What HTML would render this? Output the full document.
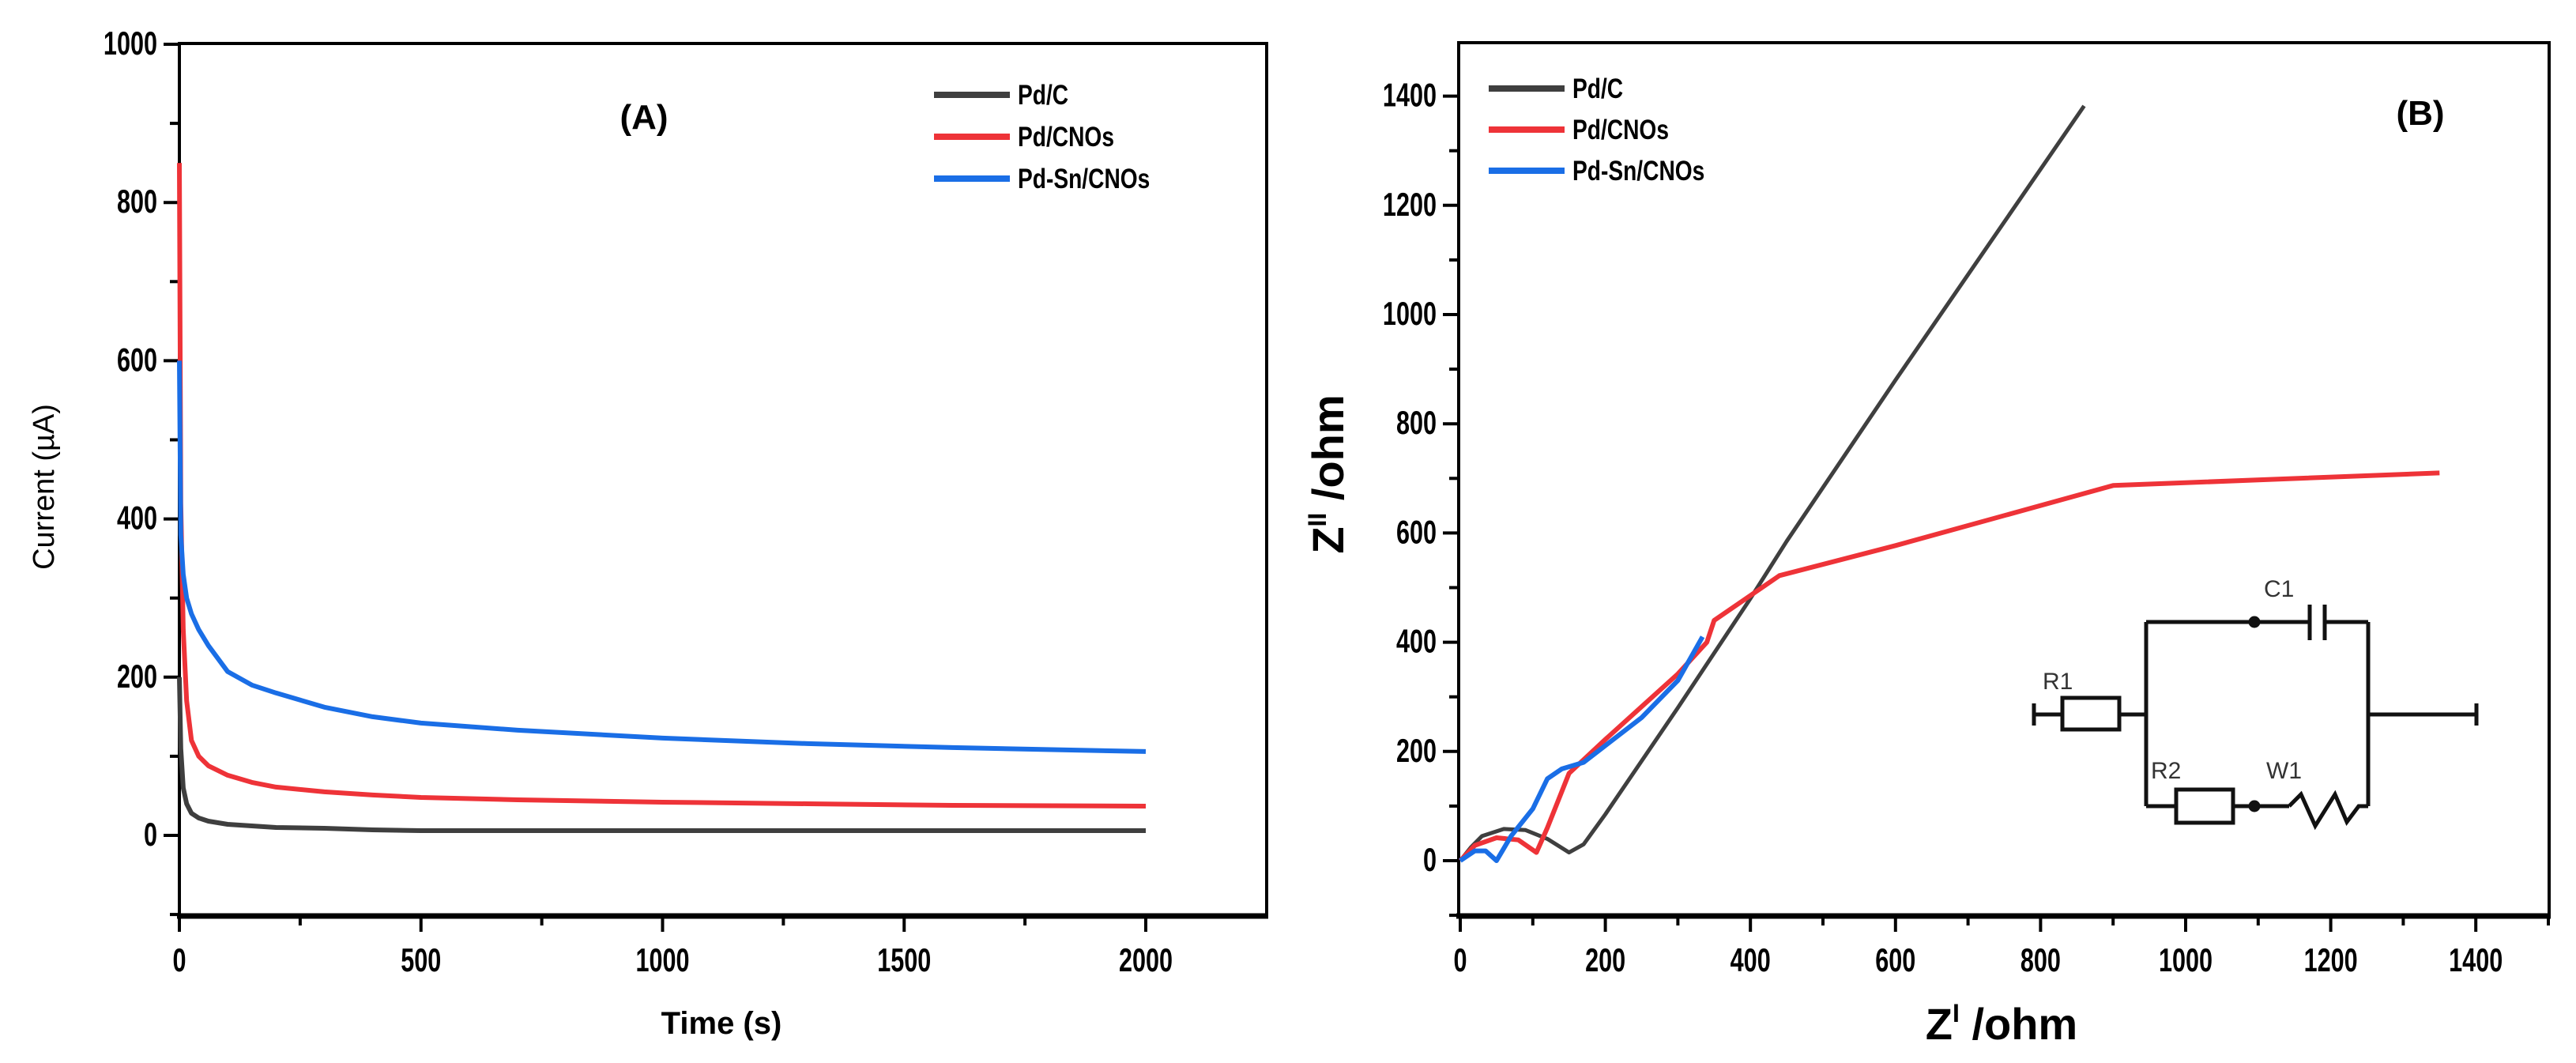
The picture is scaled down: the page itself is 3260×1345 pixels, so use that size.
<!DOCTYPE html>
<html><head><meta charset="utf-8"><style>
html,body{margin:0;padding:0;background:#fff;}
svg{display:block;font-family:"Liberation Sans",sans-serif;}
.tk{font-weight:bold;font-size:36px;}
</style></head><body>
<svg id="fig" width="3260" height="1345" viewBox="0 0 3260 1345" xmlns="http://www.w3.org/2000/svg">
<g id="pa"></g>
<g id="pb"></g>
<g id="circ" stroke="#111" stroke-width="5" fill="none">
  <line x1="2574" y1="904" x2="2610" y2="904"/><line x1="2574" y1="890" x2="2574" y2="918"/>
  <rect x="2610" y="883" width="72" height="40" stroke-width="5"/>
  <line x1="2682" y1="904" x2="2716" y2="904"/>
  <line x1="2716" y1="787" x2="2716" y2="1020"/>
  <line x1="2716" y1="787" x2="2923" y2="787"/><circle cx="2853" cy="787" r="5" fill="#111"/>
  <line x1="2923" y1="765" x2="2923" y2="810"/><line x1="2942" y1="765" x2="2942" y2="810"/>
  <line x1="2942" y1="787" x2="2997" y2="787"/>
  <line x1="2716" y1="1020" x2="2754" y2="1020"/>
  <rect x="2754" y="999" width="72" height="42"/>
  <line x1="2826" y1="1020" x2="2897" y2="1020"/><circle cx="2853" cy="1020" r="5" fill="#111"/>
  <polyline points="2897,1020 2912,1005 2930,1045 2955,1005 2970,1040 2985,1020 2997,1020"/>
  <line x1="2997" y1="787" x2="2997" y2="1020"/>
  <line x1="2997" y1="904" x2="3134" y2="904"/><line x1="3134" y1="890" x2="3134" y2="918"/>
  <g stroke="none" fill="#333" font-size="30" font-family="Liberation Sans Narrow, Liberation Sans, sans-serif">
    <text x="2585" y="872">R1</text>
    <text x="2865" y="755">C1</text>
    <text x="2722" y="985">R2</text>
    <text x="2868" y="985">W1</text>
  </g>
</g>
</svg>
<script>
// Panel A data
const tA = [0, 3, 8, 15, 25, 40, 60, 100, 150, 200, 300, 400, 500, 700, 1000, 1300, 1600, 2000];
const pdC_A = [200, 110, 60, 40, 28, 22, 18, 14, 12, 10, 9, 7, 6, 6, 6, 6, 6, 6];
const pdCNO_A = [850, 420, 260, 170, 120, 100, 88, 76, 67, 61, 55, 51, 48, 45, 42, 40, 38, 37];
const pdSn_A = [600, 380, 330, 300, 280, 260, 240, 207, 190, 180, 162, 150, 142, 133, 123, 116, 111, 106];
const xTicksA = [0, 500, 1000, 1500, 2000];
const yTicksA = [0, 200, 400, 600, 800, 1000];
// Panel B data
const pdC_Bx = [0, 15, 30, 60, 90, 120, 150, 170, 200, 300, 400, 450, 600, 860];
const pdC_By = [0, 25, 45, 58, 56, 40, 15, 30, 85, 280, 480, 585, 880, 1382];
const pdCNO_Bx = [0, 20, 50, 80, 105, 120, 150, 200, 300, 340, 350, 440, 600, 900, 1350];
const pdCNO_By = [0, 28, 42, 38, 15, 60, 160, 222, 342, 400, 440, 522, 577, 687, 710];
const pdSn_Bx = [0, 20, 35, 50, 70, 100, 120, 140, 170, 250, 300, 334];
const pdSn_By = [0, 18, 18, 0, 45, 95, 150, 168, 180, 262, 330, 410];
const xTicksB = [0, 200, 400, 600, 800, 1000, 1200, 1400];
const yTicksB = [0, 200, 400, 600, 800, 1000, 1200, 1400];
const names = ["Pd/C", "Pd/CNOs", "Pd-Sn/CNOs"];
const colors = ["#3f3f3f", "#ee3338", "#1a6ee6"];

const NS = "http://www.w3.org/2000/svg";
function mk(tag, attrs, parent, txt) {
  const e = document.createElementNS(NS, tag);
  for (const k in attrs) e.setAttribute(k, attrs[k]);
  if (txt !== undefined) e.textContent = txt;
  parent.appendChild(e);
  return e;
}
const xA = v => 227 + v * 0.6115;
const yA = v => 1057 - v * 1.001;
const xB = v => 1848 + v * 0.918;
const yB = v => 1089 - v * 0.691;

function panel(g, L, T, R, B, xs, ys, xT, yT, xMinor, yMinor, xMax, yMin, yMax) {
  let e;
  e = mk("rect", {x: L, y: T, width: R - L, height: B - T, fill: "none", stroke: "#000", "stroke-width": 4}, g);
  
  
  e = mk("line", {x1: L - 3, y1: B, x2: R + 2, y2: B, stroke: "#000", "stroke-width": 7}, g);
  
  
  for (let v = 0; v <= xMax; v += xMinor) {
    const major = xT.includes(v);
    e = mk("line", {x1: xs(v), y1: B, x2: xs(v), y2: B + (major ? 20 : 12), stroke: "#000", "stroke-width": 4}, g);
    
    
  }
  xT.forEach(v => {
    e = mk("text", {x: xs(v), y: B + 70, "text-anchor": "middle", class: "tk", transform: `translate(${xs(v)},0) scale(0.85,1.15) translate(${-xs(v)},${-(B + 70) * 0.15 / 1.15})`}, g, String(v));
    
    
  });
  for (let v = yMin; v <= yMax; v += yMinor) {
    const major = yT.includes(v);
    e = mk("line", {x1: L, y1: ys(v), x2: L - (major ? 20 : 12), y2: ys(v), stroke: "#000", "stroke-width": 4}, g);
    
    
  }
  yT.forEach(v => {
    const ty = ys(v) + 13;
    e = mk("text", {x: L - 28, y: ty, "text-anchor": "end", class: "tk", transform: `translate(${L - 28},${ty}) scale(0.85,1.15) translate(${-(L - 28)},${-ty})`}, g, String(v));
    
    
  });
}
function series(g, xs, ys, X, Y, color, name, w) {
  const pts = X.map((v, i) => xs(v).toFixed(1) + "," + ys(Y[i]).toFixed(1)).join(" ");
  const e = mk("polyline", {points: pts, fill: "none", stroke: color, "stroke-width": w, "stroke-linejoin": "round"}, g);
  
  
}
function legend(g, lx, ty, gap, fs) {
  names.forEach((n, i) => {
    const y = ty + i * gap;
    let e = mk("line", {x1: lx, y1: y, x2: lx + 96, y2: y, stroke: colors[i], "stroke-width": 8}, g);
    
    
    e = mk("text", {x: lx + 106, y: y + 12, "font-weight": "bold", "font-size": fs, transform: `translate(${lx + 106},${y + 12}) scale(0.88,1.1) translate(${-(lx + 106)},${-(y + 12)})`}, g, n);
    
    
  });
}

// Panel A
const pa = document.getElementById("pa");
panel(pa, 227, 55, 1603, 1159, xA, yA, xTicksA, yTicksA, 250, 100, 2000, -100, 1000);
series(pa, xA, yA, tA, pdC_A, colors[0], "pd-c-current-line", 6);
series(pa, xA, yA, tA, pdCNO_A, colors[1], "pd-cnos-current-line", 6);
series(pa, xA, yA, tA, pdSn_A, colors[2], "pd-sn-cnos-current-line", 6);
legend(pa, 1182, 120, 53, 32);
let t = mk("text", {x: 815, y: 163, "text-anchor": "middle", "font-weight": "bold", "font-size": 44}, pa, "(A)");


t = mk("text", {x: 913, y: 1308, "text-anchor": "middle", "font-weight": "bold", "font-size": 40}, pa, "Time (s)");


t = mk("text", {x: 68, y: 616, "text-anchor": "middle", "font-size": 38, transform: "rotate(-90 68 616)"}, pa, "Current (\u00b5A)");



// Panel B
const pb = document.getElementById("pb");
panel(pb, 1846, 54, 3226, 1159, xB, yB, xTicksB, yTicksB, 100, 100, 1500, -100, 1400);
series(pb, xB, yB, pdC_Bx, pdC_By, colors[0], "pd-c-nyquist-line", 5);
series(pb, xB, yB, pdCNO_Bx, pdCNO_By, colors[1], "pd-cnos-nyquist-line", 6);
series(pb, xB, yB, pdSn_Bx, pdSn_By, colors[2], "pd-sn-cnos-nyquist-line", 6);
legend(pb, 1884, 112, 52, 32);
t = mk("text", {x: 3063, y: 158, "text-anchor": "middle", "font-weight": "bold", "font-size": 44}, pb, "(B)");


t = mk("text", {x: 2533, y: 1315, "text-anchor": "middle", "font-weight": "bold", "font-size": 56}, pb, "");


mk("tspan", {}, t, "Z");
mk("tspan", {dy: -22, "font-size": 32}, t, "I");
mk("tspan", {dy: 22}, t, " /ohm");
t = mk("text", {x: 1700, y: 600, "text-anchor": "middle", "font-weight": "bold", "font-size": 56, transform: "rotate(-90 1700 600)"}, pb, "");


mk("tspan", {}, t, "Z");
mk("tspan", {dy: -22, "font-size": 32}, t, "II");
mk("tspan", {dy: 22}, t, " /ohm");
</script>
</body></html>
